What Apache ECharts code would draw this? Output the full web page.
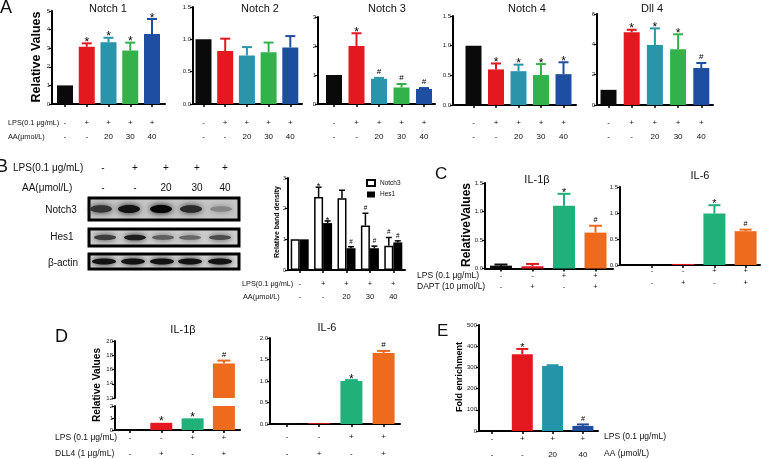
<!DOCTYPE html>
<html><head><meta charset="utf-8">
<script src="https://cdn.jsdelivr.net/npm/echarts@6/dist/echarts.min.js"></script>
<style>html,body{margin:0;padding:0;background:#fff}#c{width:763px;height:459px}</style>
</head><body><div id="c"></div>
<script>
// ================= DATA =================
// Panel A (qPCR of Notch family)
const aLps = ['-', '+', '+', '+', '+'];
const aAA  = ['-', '-', '20', '30', '40'];
const notch1 = [1.0, 3.08, 3.32, 2.87, 3.76];
const notch1Err = [null, 3.26, 3.56, 3.30, 4.57];
const notch1Sig = ['', '*', '*', '*', '*'];
const notch2 = [1.0, 0.82, 0.75, 0.80, 0.875];
const notch2Err = [null, 1.01, 0.88, 0.95, 1.05];
const notch2Sig = ['', '', '', '', ''];
const notch3 = [1.0, 2.0, 0.87, 0.57, 0.52];
const notch3Err = [null, 2.44, 0.90, 0.69, 0.55];
const notch3Sig = ['', '*', '#', '#', '#'];
const notch4 = [1.0, 0.60, 0.57, 0.505, 0.52];
const notch4Err = [null, 0.70, 0.68, 0.69, 0.72];
const notch4Sig = ['', '*', '*', '*', '*'];
const dll4 = [1.0, 4.80, 3.95, 3.68, 2.44];
const dll4Err = [null, 4.96, 5.05, 4.66, 2.77];
const dll4Sig = ['', '*', '*', '*', '#'];

// Panel B (western blot densitometry)
const bLps = ['-', '+', '+', '+', '+'];
const bAA  = ['-', '-', '20', '30', '40'];
const bNotch3 = [1.0, 2.38, 2.34, 1.45, 0.79];
const bNotch3Err = [null, 2.70, 2.60, 1.85, 1.06];
const bNotch3Sig = ['', '*', '', '#', '#'];
const bHes1 = [1.0, 1.53, 0.71, 0.71, 0.90];
const bHes1Err = [null, 1.60, 0.76, 0.78, 0.95];
const bHes1Sig = ['', '*', '#', '#', '#'];
// blot band intensities (0 = none, 1 = darkest) per lane
const blotNotch3 = [0.72, 0.9, 0.97, 0.78, 0.3];
const blotHes1 = [0.68, 0.85, 0.5, 0.46, 0.6];
const blotActin = [0.9, 0.9, 0.9, 0.9, 0.9];

// Panel C (DAPT)
const cLps  = ['-', '-', '+', '+'];
const cDapt = ['-', '+', '-', '+'];
const cIL1b = [0.05, 0.04, 1.10, 0.63];
const cIL1bErr = [0.07, 0.08, 1.31, 0.75];
const cIL1bSig = ['', '', '*', '#'];
const cIL6 = [0.01, 0.02, 0.99, 0.65];
const cIL6Err = [null, null, 1.15, 0.68];
const cIL6Sig = ['', '', '*', '#'];

// Panel D (DLL4)
const dLps  = ['-', '-', '+', '+'];
const dDll4 = ['-', '+', '-', '+'];
const dIL1b = [0.05, 0.60, 0.97, 16.85];
const dIL1bErr = [null, null, null, 17.25];
const dIL1bSig = ['', '*', '*', '#'];
const dIL6 = [0.02, 0.02, 1.0, 1.65];
const dIL6Err = [null, null, 1.02, 1.70];
const dIL6Sig = ['', '', '*', '#'];

// Panel E (ChIP fold enrichment)
const eLps = ['-', '+', '+', '+'];
const eAA  = ['-', '-', '20', '40'];
const eFold = [2, 362, 307, 24];
const eFoldErr = [null, 387, 310, 31];
const eFoldSig = ['', '*', '', '#'];

// ================= STYLE =================
const F = '"Liberation Sans", Arial, sans-serif';
const colA = ['#0a0a0a', '#e3191f', '#2a94ab', '#33b24b', '#1e4ea0'];
const colC = ['#0a0a0a', '#e3191f', '#20b07a', '#ee6b1e'];
const colE = ['#0a0a0a', '#e3191f', '#2494a8', '#1d4d9c'];

const grids = [], xAxes = [], yAxes = [], series = [], graphic = [];

function sigText(s, x, cap, fs) {
  if (s === '#') {
    return {type: 'text', style: {text: s, x: x, y: cap - 0.7 * fs, align: 'center', verticalAlign: 'middle',
      fontSize: fs * 0.9, fontFamily: F, fill: '#000'}};
  }
  return {type: 'text', style: {text: s, x: x, y: cap - 0.09 * fs, align: 'center', verticalAlign: 'middle',
    fontSize: fs * 1.35, fontFamily: F, fill: '#000'}};
}

function errSeries(gi, vals, errs, sigs, colors, o) {
  return {
    type: 'custom', xAxisIndex: gi, yAxisIndex: gi, clip: !!o.clip, z: 5,
    data: vals.map((v, i) => [i, v, errs[i] == null ? v : errs[i]]),
    renderItem(params, api) {
      const i = api.value(0), v = api.value(1), e = api.value(2);
      const p0 = api.coord([i, v]), p1 = api.coord([i, e]);
      const x = p0[0] + (o.dx || 0);
      const col = o.errColor || colors[i];
      const lw = o.lw || 2;
      const ch = [];
      if (e > v) {
        ch.push({type: 'line', shape: {x1: x, y1: p0[1], x2: x, y2: p1[1]}, style: {stroke: col, lineWidth: lw}});
        ch.push({type: 'line', shape: {x1: x - o.cap / 2, y1: p1[1], x2: x + o.cap / 2, y2: p1[1]}, style: {stroke: col, lineWidth: lw}});
      }
      const s = sigs[i];
      if (s) ch.push(sigText(s, x, p1[1], o.sigSize || 9));
      return {type: 'group', children: ch};
    }
  };
}

function panel(o) {
  const gi = grids.length;
  grids.push({left: o.axisX, top: o.top, width: o.end - o.axisX, height: o.bottom - o.top, outerBoundsMode: 'none'});
  const idx = o.vals.map((_, i) => i);
  xAxes.push({
    gridIndex: gi, type: 'value',
    min: (o.axisX - o.first) / o.step, max: (o.end - o.first) / o.step,
    show: o.showX !== false,
    axisLine: {show: true, onZero: false, lineStyle: {color: '#000', width: o.axisW || 2}},
    axisTick: {show: true, customValues: idx, length: 3, lineStyle: {color: '#000', width: 1.5}},
    axisLabel: {show: !!o.rows, customValues: idx, margin: o.rowMargin || 0, fontSize: o.rowFont || 8,
      lineHeight: o.rowLH || 14, fontFamily: F, color: '#111',
      formatter: v => o.rows ? o.rows.map(r => r[Math.round(v)]).join('\n') : ''},
    splitLine: {show: false}
  });
  yAxes.push({
    gridIndex: gi, type: 'value', min: o.yMin || 0, max: o.yMax, interval: o.yInt,
    axisLine: {show: true, onZero: false, lineStyle: {color: '#000', width: o.axisW || 2}},
    axisTick: {show: true, length: 3, lineStyle: {color: '#000', width: 1.2}},
    axisLabel: {fontSize: o.yFont || 6, margin: 2, color: '#222', fontFamily: F, formatter: v => v.toFixed(o.dec || 0)},
    splitLine: {show: false}
  });
  series.push({type: 'bar', xAxisIndex: gi, yAxisIndex: gi, barWidth: o.barW, clip: true, z: 2,
    data: o.vals.map((v, i) => ({value: [i, v], itemStyle: {color: o.colors[i]}}))});
  series.push(errSeries(gi, o.vals, o.errs, o.sigs, o.colors, o));
  return gi;
}

function txt(t, x, y, fs, extra) {
  const e = Object.assign({align: 'left', bold: false, rot: 0, color: '#111'}, extra || {});
  graphic.push({type: 'text', x: x, y: y, rotation: e.rot, z: 10,
    style: {text: t, fontSize: fs, fontFamily: F, fontWeight: e.bold ? 'bold' : 'normal', fill: e.color,
      align: e.align, verticalAlign: 'middle'}});
}

// ================= PANEL A =================
const aRows = {rows: [aLps, aAA], rowFont: 8, rowLH: 14, barW: 16, cap: 10, sigSize: 9};
panel(Object.assign({axisX: 52, first: 65, step: 21.75, end: 165, top: 11, bottom: 104, yMax: 5, yInt: 1, dec: 0,
  vals: notch1, errs: notch1Err, sigs: notch1Sig, colors: colA, rowMargin: 12}, aRows));
panel(Object.assign({axisX: 193, first: 203.5, step: 21.7, end: 302, top: 7, bottom: 104, yMax: 1.5, yInt: 0.5, dec: 1,
  vals: notch2, errs: notch2Err, sigs: notch2Sig, colors: colA, rowMargin: 12}, aRows));
panel(Object.assign({axisX: 318, first: 334, step: 22.5, end: 435, top: 17, bottom: 104, yMax: 3, yInt: 1, dec: 0,
  vals: notch3, errs: notch3Err, sigs: notch3Sig, colors: colA, rowMargin: 12}, aRows));
panel(Object.assign({axisX: 453, first: 473.5, step: 22.5, end: 576, top: 16, bottom: 105, yMax: 1.5, yInt: 0.5, dec: 1,
  vals: notch4, errs: notch4Err, sigs: notch4Sig, colors: colA, rowMargin: 11}, aRows));
panel(Object.assign({axisX: 597, first: 608.5, step: 23.2, end: 713, top: 14, bottom: 105, yMax: 6, yInt: 2, dec: 0,
  vals: dll4, errs: dll4Err, sigs: dll4Sig, colors: colA, rowMargin: 11}, aRows));

txt('A', 0, 8, 18);
txt('Notch 1', 108, 9, 11, {align: 'center'});
txt('Notch 2', 260, 9, 11, {align: 'center'});
txt('Notch 3', 387, 9, 11, {align: 'center'});
txt('Notch 4', 527, 9, 11, {align: 'center'});
txt('Dll 4', 652, 9, 11, {align: 'center'});
txt('Relative Values', 37, 57, 12.5, {align: 'center', bold: true, rot: Math.PI / 2, color: '#000'});
txt('LPS(0.1 μg/mL)', 8, 123, 7.3);
txt('AA(μmol/L)', 8, 137, 7.3);

// ================= PANEL B =================
txt('B', -4, 167, 18);
txt('LPS(0.1 μg/mL)', 13, 168, 10);
txt('AA(μmol/L)', 22, 188, 10);
const laneX = [103, 135, 166, 197, 225];
bLps.forEach((s, i) => txt(s, laneX[i], 168, 10, {align: 'center'}));
bAA.forEach((s, i) => txt(s, laneX[i], 188, 10, {align: 'center'}));

function blot(y, h, bg, bandX, cy, intens, rx, ry) {
  graphic.push({type: 'rect', z: 5, shape: {x: 89, y: y, width: 150, height: h}, style: {fill: bg, stroke: '#000', lineWidth: 3}});
  intens.forEach((k, i) => {
    const g = Math.round(190 * (1 - k));
    const c = 'rgb(' + g + ',' + g + ',' + g + ')';
    graphic.push({type: 'ellipse', z: 6, shape: {cx: bandX[i], cy: cy, rx: rx, ry: ry * (0.6 + 0.5 * k)},
      style: {fill: c, shadowBlur: 6, shadowColor: c}});
  });
}
blot(198, 22, '#c6c6c6', [101, 129, 161, 191, 221], 209, blotNotch3, 11, 3.8);
blot(229, 17, '#d0d0d0', [105, 135, 163, 190, 220], 237.5, blotHes1, 11, 2.8);
blot(254, 15, '#d8d8d8', [104, 133, 162, 190, 220], 261.5, blotActin, 12, 2.8);
txt('Notch3', 61, 210, 10, {align: 'center'});
txt('Hes1', 62, 237, 10, {align: 'center'});
txt('β-actin', 63, 263, 10, {align: 'center'});

// B bar chart (grouped, category axis)
(function () {
  const gi = grids.length;
  grids.push({left: 288, top: 178, width: 117, height: 92, outerBoundsMode: 'none'});
  xAxes.push({gridIndex: gi, type: 'category', data: bLps.map((_, i) => i),
    axisLine: {show: true, lineStyle: {color: '#000', width: 2}},
    axisTick: {show: true, alignWithLabel: true, length: 3, lineStyle: {color: '#000', width: 1.5}},
    axisLabel: {margin: 7.5, fontSize: 7.5, lineHeight: 13, fontFamily: F, color: '#111', interval: 0,
      formatter: v => bLps[+v] + '\n' + bAA[+v]}});
  yAxes.push({gridIndex: gi, type: 'value', min: 0, max: 3, interval: 1,
    axisLine: {show: true, onZero: false, lineStyle: {color: '#000', width: 2}},
    axisTick: {show: true, length: 3, lineStyle: {color: '#000', width: 1.2}},
    axisLabel: {fontSize: 5.5, margin: 2, color: '#222', fontFamily: F}, splitLine: {show: false}});
  series.push({type: 'bar', name: 'Notch3', xAxisIndex: gi, yAxisIndex: gi, barWidth: 9, barGap: '0%', z: 2,
    itemStyle: {color: '#fff', borderColor: '#000', borderWidth: 1.5}, data: bNotch3});
  series.push({type: 'bar', name: 'Hes1', xAxisIndex: gi, yAxisIndex: gi, barWidth: 9, barGap: '0%', z: 2,
    itemStyle: {color: '#000'}, data: bHes1});
  series.push(errSeries(gi, bNotch3, bNotch3Err, bNotch3Sig, null, {dx: -4.5, errColor: '#000', cap: 6, lw: 1.5, sigSize: 7}));
  series.push(errSeries(gi, bHes1, bHes1Err, bHes1Sig, null, {dx: 4.5, errColor: '#000', cap: 6, lw: 1.5, sigSize: 7}));
})();
txt('Relative band density', 277, 222, 7, {align: 'center', bold: true, rot: Math.PI / 2, color: '#000'});
txt('LPS(0.1 μg/mL)', 242, 284, 7.3);
txt('AA(μmol/L)', 243, 297, 7.3);

// ================= PANEL C =================
txt('C', 435, 174, 17);
panel({axisX: 485, first: 501, step: 31.5, end: 613, top: 183, bottom: 268.5, yMax: 1.5, yInt: 0.5, dec: 1,
  vals: cIL1b, errs: cIL1bErr, sigs: cIL1bSig, colors: colC, rows: [cLps, cDapt], rowFont: 7.5, rowLH: 11, rowMargin: 2,
  barW: 22, cap: 13, sigSize: 8});
panel({axisX: 620, first: 652, step: 31.2, end: 760, top: 187, bottom: 265, yMax: 1.5, yInt: 0.5, dec: 1,
  vals: cIL6, errs: cIL6Err, sigs: cIL6Sig, colors: colC, rows: [cLps, cDapt], rowFont: 7.5, rowLH: 12, rowMargin: 0,
  barW: 22, cap: 12, sigSize: 8});
txt('IL-1β', 537, 180, 11, {align: 'center'});
txt('IL-6', 700, 176, 11, {align: 'center'});
txt('RelativeValues', 467, 225, 12, {align: 'center', bold: true, rot: Math.PI / 2, color: '#000'});
txt('LPS (0.1 μg/mL)', 417, 276, 8.5);
txt('DAPT (10 μmol/L)', 417, 287, 8.5);

// ================= PANEL D =================
txt('D', 55, 337, 18);
// broken axis: upper segment 12-20, lower segment 0-2
panel({axisX: 115, first: 130, step: 31.3, end: 240, top: 341, bottom: 398, yMin: 12, yMax: 20, yInt: 2, dec: 0,
  vals: dIL1b, errs: dIL1bErr, sigs: dIL1bSig, colors: colC, showX: false, clip: true, barW: 22, cap: 13, sigSize: 9});
panel({axisX: 115, first: 130, step: 31.3, end: 240, top: 406, bottom: 430, yMax: 2, yInt: 1, dec: 0,
  vals: dIL1b, errs: dIL1bErr, sigs: dIL1bSig, colors: colC, clip: true,
  rows: [dLps, dDll4], rowFont: 8, rowLH: 16, rowMargin: 0, barW: 22, cap: 13, sigSize: 9});
panel({axisX: 270, first: 287, step: 32.2, end: 400, top: 338, bottom: 424, yMax: 2, yInt: 0.5, dec: 1,
  vals: dIL6, errs: dIL6Err, sigs: dIL6Sig, colors: colC,
  rows: [dLps, dDll4], rowFont: 8, rowLH: 17, rowMargin: 4.5, barW: 22, cap: 13, sigSize: 9});
txt('IL-1β', 183, 330, 11, {align: 'center'});
txt('IL-6', 327, 328, 11, {align: 'center'});
txt('Relative Values', 97, 385, 10.2, {align: 'center', bold: true, rot: Math.PI / 2, color: '#000'});
txt('LPS (0.1 μg/mL)', 55, 438, 8.5);
txt('DLL4 (1 μg/mL)', 55, 454, 8.5);

// ================= PANEL E =================
txt('E', 437, 331, 17);
panel({axisX: 479, first: 492, step: 30.3, end: 598, top: 325, bottom: 431, yMax: 500, yInt: 100, dec: 0,
  vals: eFold, errs: eFoldErr, sigs: eFoldSig, colors: colE,
  rows: [eLps, eAA], rowFont: 8, rowLH: 16, rowMargin: 0, barW: 21, cap: 12, sigSize: 8});
txt('Fold enrichment', 460, 377, 9, {align: 'center', bold: true, rot: Math.PI / 2, color: '#000'});
txt('LPS (0.1 μg/mL)', 604, 437, 8.5);
txt('AA (μmol/L)', 604, 454, 8.5);

// ================= CHART =================
const chart = echarts.init(document.getElementById('c'), null, {renderer: 'canvas'});
chart.setOption({
  animation: false,
  backgroundColor: '#fff',
  textStyle: {fontFamily: F},
  legend: {data: ['Notch3', 'Hes1'], orient: 'vertical', left: 366, top: 179, itemWidth: 8, itemHeight: 6, itemGap: 4,
    icon: 'rect', textStyle: {fontSize: 6.5, fontFamily: F, color: '#111'}, selectedMode: false, padding: 0},
  grid: grids, xAxis: xAxes, yAxis: yAxes, series: series, graphic: graphic
});
</script></body></html>
